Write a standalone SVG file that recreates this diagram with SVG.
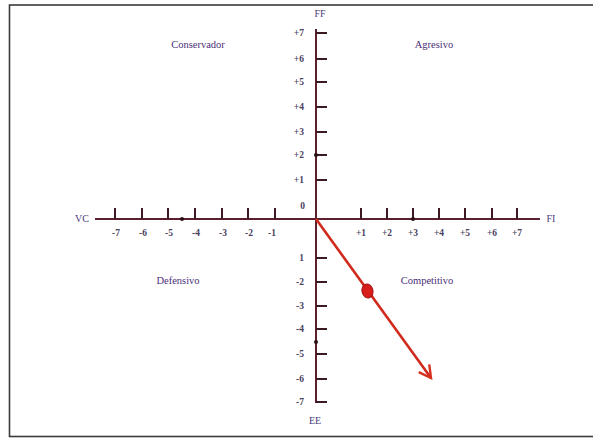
<svg xmlns="http://www.w3.org/2000/svg" width="593" height="439" viewBox="0 0 593 439">
<style>
.ax{stroke:#5b1f2e;stroke-width:2;fill:none}
.tk{stroke:#3d1a22;stroke-width:2}
.num{font-family:"Liberation Serif",serif;font-size:9.5px;font-weight:bold;fill:#4a4060}
.q{font-family:"Liberation Serif",serif;font-size:10.5px;fill:#4b2f78}
.lab{font-family:"Liberation Serif",serif;font-size:10px;fill:#4b3a80}
.dot{fill:#2a1015}
</style>
<defs>
<marker id="ah" viewBox="0 0 16 16" refX="13" refY="8" markerWidth="16" markerHeight="16" markerUnits="userSpaceOnUse" orient="auto">
<path d="M1,1.5 L13,8 L1,14.5" fill="none" stroke="#d8301f" stroke-width="2.4"/>
</marker>
</defs>
<rect x="0" y="0" width="593" height="439" fill="#fff"/>
<rect x="9.5" y="5" width="600" height="431.5" fill="none" stroke="#3a3a3a" stroke-width="1.6"/>
<g id="connectors">
<line class="ax" x1="95" y1="219" x2="540" y2="219"/>
<line class="ax" x1="316" y1="29" x2="316" y2="403"/>
<g class="tk">
<line x1="115" y1="208" x2="115" y2="219"/><line x1="142" y1="208" x2="142" y2="219"/><line x1="168" y1="208" x2="168" y2="219"/><line x1="195" y1="208" x2="195" y2="219"/><line x1="222" y1="208" x2="222" y2="219"/><line x1="248" y1="208" x2="248" y2="219"/><line x1="275" y1="208" x2="275" y2="219"/>
<line x1="361" y1="208" x2="361" y2="219"/><line x1="387" y1="208" x2="387" y2="219"/><line x1="413" y1="208" x2="413" y2="219"/><line x1="439" y1="208" x2="439" y2="219"/><line x1="465" y1="208" x2="465" y2="219"/><line x1="492" y1="208" x2="492" y2="219"/><line x1="517" y1="208" x2="517" y2="219"/>
<line x1="316" y1="33" x2="327" y2="33"/><line x1="316" y1="59" x2="327" y2="59"/><line x1="316" y1="82" x2="327" y2="82"/><line x1="316" y1="107" x2="327" y2="107"/><line x1="316" y1="132" x2="327" y2="132"/><line x1="316" y1="155" x2="327" y2="155"/><line x1="316" y1="180" x2="327" y2="180"/>
<line x1="316" y1="258" x2="327" y2="258"/><line x1="316" y1="282" x2="327" y2="282"/><line x1="316" y1="306" x2="327" y2="306"/><line x1="316" y1="329" x2="327" y2="329"/><line x1="316" y1="354" x2="327" y2="354"/><line x1="316" y1="379" x2="327" y2="379"/><line x1="316" y1="402" x2="327" y2="402"/>
</g>
<circle class="dot" cx="182" cy="219" r="2"/>
<circle class="dot" cx="413" cy="219" r="2"/>
<circle class="dot" cx="316" cy="155" r="2"/>
<circle class="dot" cx="316" cy="342" r="2"/>
<line x1="316" y1="219" x2="431" y2="378" stroke="#d02a1c" stroke-width="2.6" marker-end="url(#ah)"/>
</g>
<g id="point">
<ellipse cx="367.5" cy="291" rx="5.5" ry="7" fill="#d81e1a" stroke="#a01010" stroke-width="1" transform="rotate(-15 367.5 291)"/>
</g>
<g id="axis-labels">
<text class="lab" x="320" y="17" text-anchor="middle">FF</text>
<text class="lab" x="315" y="424" text-anchor="middle">EE</text>
<text class="lab" x="82" y="222" text-anchor="middle">VC</text>
<text class="lab" x="551" y="222" text-anchor="middle">FI</text>
</g>
<g id="x-numbers" class="num" text-anchor="middle">
<text x="116" y="236">-7</text><text x="143" y="236">-6</text><text x="169" y="236">-5</text><text x="196" y="236">-4</text><text x="223" y="236">-3</text><text x="249" y="236">-2</text><text x="272" y="236">-1</text>
<text x="361" y="236">+1</text><text x="387" y="236">+2</text><text x="413" y="236">+3</text><text x="439" y="236">+4</text><text x="465" y="236">+5</text><text x="492" y="236">+6</text><text x="517" y="236">+7</text>
</g>
<g id="y-numbers" class="num" text-anchor="end">
<text x="304" y="36">+7</text><text x="304" y="62">+6</text><text x="304" y="85">+5</text><text x="304" y="110">+4</text><text x="304" y="135">+3</text><text x="304" y="158">+2</text><text x="304" y="183">+1</text>
<text x="305" y="209">0</text>
<text x="304" y="261">1</text><text x="304" y="285">-2</text><text x="304" y="309">-3</text><text x="304" y="332">-4</text><text x="304" y="357">-5</text><text x="304" y="382">-6</text><text x="304" y="405">-7</text>
</g>
<g id="conservador"><text class="q" x="198" y="48" text-anchor="middle">Conservador</text></g>
<g id="agresivo"><text class="q" x="434" y="48" text-anchor="middle">Agresivo</text></g>
<g id="defensivo"><text class="q" x="178" y="284" text-anchor="middle">Defensivo</text></g>
<g id="competitivo"><text class="q" x="427" y="284" text-anchor="middle">Competitivo</text></g>
</svg>
